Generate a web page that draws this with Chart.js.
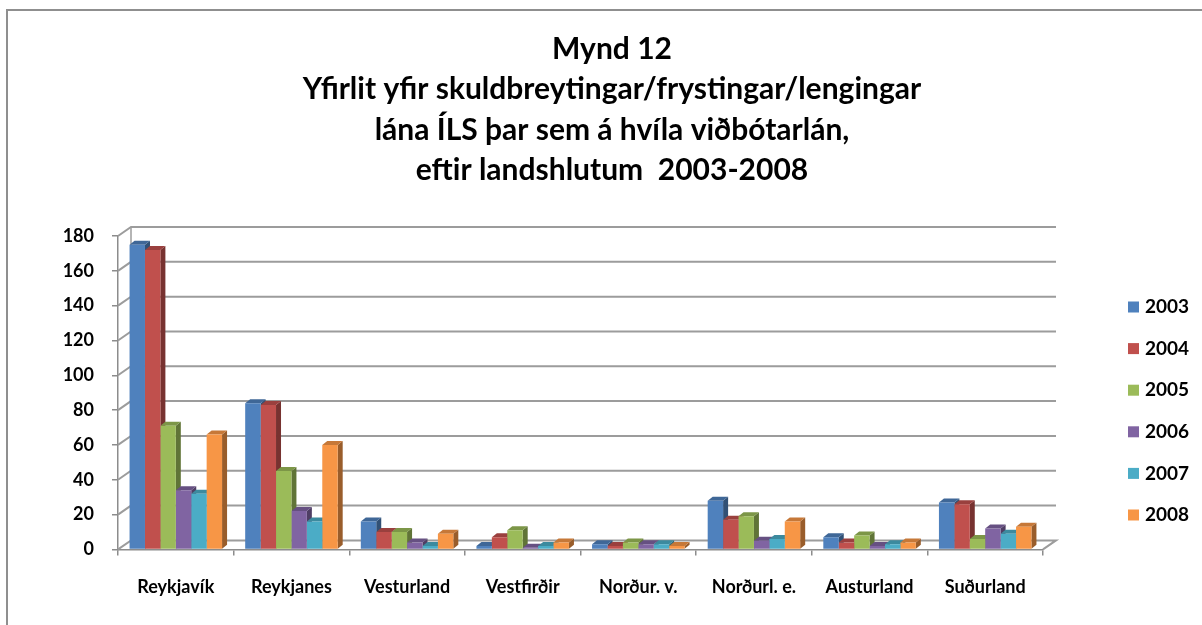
<!DOCTYPE html>
<html>
<head>
<meta charset="utf-8">
<script src="https://cdn.jsdelivr.net/npm/chart.js@4.4.1/dist/chart.umd.min.js"></script>
<style>
  html, body { margin: 0; padding: 0; background: #fff; overflow: hidden; }
  #frame { position: absolute; left: 6px; top: 9px; width: 1208px; height: 620px;
           border-left: 2px solid #8f8f8f; border-top: 2px solid #8f8f8f; }
  canvas { display: block; }
</style>
</head>
<body>
<div id="frame"><canvas id="chart" width="1208" height="614"></canvas></div>
<script>
// Regions (landshlutar) and years
const regions = ['Reykjavík', 'Reykjanes', 'Vesturland', 'Vestfirðir', 'Norður. v.', 'Norðurl. e.', 'Austurland', 'Suðurland'];
const years = ['2003', '2004', '2005', '2006', '2007', '2008'];

// Values, one array per year
const y2003 = [175, 84, 16, 2, 3, 28, 7, 27];
const y2004 = [172, 83, 10, 7, 2, 17, 4, 26];
const y2005 = [71, 45, 10, 11, 4, 19, 8, 6];
const y2006 = [34, 22, 4, 1, 3, 5, 2, 12];
const y2007 = [32, 16, 2, 2, 3, 6, 3, 9];
const y2008 = [66, 60, 9, 4, 2, 16, 4, 13];

const titleLines = [
  'Mynd 12',
  'Yfirlit yfir skuldbreytingar/frystingar/lengingar',
  'lána ÍLS þar sem á hvíla viðbótarlán,',
  'eftir landshlutum  2003-2008'
];

const colors = ['#4F81BD', '#C0504D', '#9BBB59', '#8064A2', '#4BACC6', '#F79646'];
const series = [y2003, y2004, y2005, y2006, y2007, y2008];

const FONT = 'Lato';
const DX = 13, DY = 9;     // back wall offset
const BD = 5, BDY = 4;     // bar depth

function shade(hex, f) {
  const n = parseInt(hex.slice(1), 16);
  const r = Math.round(((n >> 16) & 255) * f);
  const g = Math.round(((n >> 8) & 255) * f);
  const b = Math.round((n & 255) * f);
  return `rgb(${r},${g},${b})`;
}

// Draws the back wall gridlines and the side/top faces of the columns
const depthPlugin = {
  id: 'depth',
  beforeDatasetsDraw(chart) {
    const { ctx, chartArea: a, scales: { y } } = chart;
    ctx.save();
    ctx.strokeStyle = '#9c9c9c';
    ctx.lineWidth = 2;
    y.ticks.forEach(t => {
      const py = y.getPixelForValue(t.value);
      ctx.beginPath();
      ctx.moveTo(a.left, py);
      ctx.lineTo(a.left + DX, py - DY);
      ctx.lineTo(a.right + DX, py - DY);
      if (t.value === 0) ctx.lineTo(a.right, py);
      ctx.stroke();
    });
    // left wall back edge
    ctx.lineWidth = 1.5;
    ctx.beginPath();
    ctx.moveTo(a.left + DX, y.getPixelForValue(0) - DY);
    ctx.lineTo(a.left + DX, y.getPixelForValue(180) - DY);
    ctx.stroke();

    const metas = series.map((s, i) => chart.getDatasetMeta(i));
    for (let j = 0; j < regions.length; j++) {
      metas.forEach((m, i) => {
        const { x, y: top, base, width } = m.data[j].getProps(['x', 'y', 'base', 'width'], true);
        const l = x - width / 2, r = x + width / 2;
        ctx.fillStyle = shade(colors[i], 0.62);
        ctx.beginPath();
        ctx.moveTo(r, top);
        ctx.lineTo(r + BD, top - BDY);
        ctx.lineTo(r + BD, base - BDY);
        ctx.lineTo(r, base);
        ctx.closePath();
        ctx.fill();
        ctx.fillStyle = shade(colors[i], 0.8);
        ctx.beginPath();
        ctx.moveTo(l, top);
        ctx.lineTo(l + BD, top - BDY);
        ctx.lineTo(r + BD, top - BDY);
        ctx.lineTo(r, top);
        ctx.closePath();
        ctx.fill();
      });
    }
    ctx.restore();
  }
};

// Legend on the right, one row per year
const legendPlugin = {
  id: 'sideLegend',
  afterDraw(chart) {
    const { ctx, chartArea: a } = chart;
    ctx.save();
    ctx.font = `bold 19px ${FONT}`;
    ctx.textBaseline = 'middle';
    years.forEach((yr, i) => {
      const cy = a.top + 71 + i * 41.6;
      ctx.fillStyle = colors[i];
      ctx.fillRect(a.right + 85, cy - 5.5, 11, 11);
      ctx.fillStyle = '#000';
      ctx.fillText(yr, a.right + 102, cy);
    });
    ctx.restore();
  }
};

const ctx = document.getElementById('chart').getContext('2d');
new Chart(ctx, {
  type: 'bar',
  data: {
    labels: regions,
    datasets: series.map((s, i) => ({
      label: years[i],
      data: s,
      backgroundColor: colors[i],
      borderWidth: 0,
      categoryPercentage: 0.8,
      barPercentage: 1.0
    }))
  },
  options: {
    responsive: false,
    animation: false,
    layout: { padding: { left: 0, right: 0, top: 0, bottom: 6 } },
    plugins: {
      legend: { display: false },
      tooltip: { enabled: false },
      title: {
        display: true,
        text: titleLines,
        color: '#000',
        font: { family: FONT, size: 30, weight: 'bold', lineHeight: 1.35 },
        padding: { top: 18, bottom: 45 }
      }
    },
    scales: {
      x: {
        ticks: { padding: 21, color: '#000', font: { family: FONT, size: 18, weight: 'bold' } },
        grid: { offset: true, drawOnChartArea: false, tickLength: 6, color: '#8c8c8c', lineWidth: 1.5 },
        border: { color: '#8c8c8c', width: 1.5 }
      },
      y: {
        min: 0,
        max: 180,
        ticks: { stepSize: 20, padding: 18, color: '#000', font: { family: FONT, size: 18, weight: 'bold' } },
        grid: { drawOnChartArea: false, tickLength: 6, color: '#8c8c8c', lineWidth: 1.5 },
        border: { color: '#8c8c8c', width: 1.5 },
        afterFit(scale) { scale.width = 110; }
      },
      // empty right-hand axis that keeps room for the legend
      yLegend: {
        position: 'right',
        ticks: { display: false },
        grid: { display: false },
        border: { display: false },
        afterFit(scale) { scale.width = 173; }
      }
    }
  },
  plugins: [depthPlugin, legendPlugin]
});
</script>
</body>
</html>
